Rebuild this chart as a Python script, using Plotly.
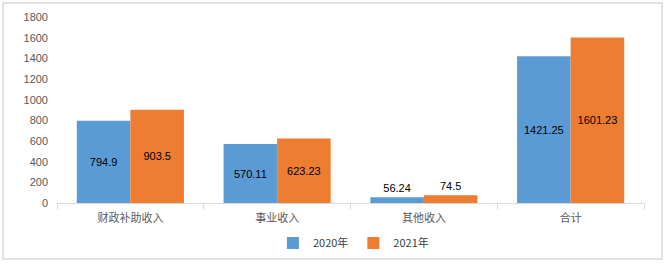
import plotly.graph_objects as go

categories = ["财政补助收入", "事业收入", "其他收入", "合计"]
series_names = ["2020年", "2021年"]
values_2020 = [794.9, 570.11, 56.24, 1421.25]
values_2021 = [903.5, 623.23, 74.5, 1601.23]
y_ticks = [0, 200, 400, 600, 800, 1000, 1200, 1400, 1600, 1800]

colors = ["#5b9bd5", "#ed7d31"]
FONT = "Liberation Sans, Noto Sans CJK SC, sans-serif"

def positions(vals):
    return ["inside" if v > 200 else "outside" for v in vals]

fig = go.Figure()
for name, vals, col in zip(series_names, [values_2020, values_2021], colors):
    fig.add_trace(go.Bar(
        x=categories, y=vals, name=name, marker_color=col, marker_line_width=0,
        text=[f"{v:g}" for v in vals], textposition=positions(vals),
        insidetextanchor="middle",
        textfont=dict(size=11, color="#000000", family=FONT),
        cliponaxis=False,
    ))

fig.update_layout(
    width=667, height=265,
    margin=dict(l=57, r=23, t=17, b=62, autoexpand=False),
    paper_bgcolor="white", plot_bgcolor="white",
    barmode="group", bargap=0.27, bargroupgap=0,
    font=dict(family=FONT, size=11, color="#595959"),
    showlegend=True,
    legend=dict(orientation="h", x=0.505, xanchor="center", y=-0.215, yanchor="middle",
                font=dict(size=11, color="#404040", family="Noto Sans CJK SC"),
                itemwidth=30, traceorder="normal", tracegroupgap=0),
    xaxis=dict(showline=True, linecolor="#d9d9d9", linewidth=1, automargin=False,
               ticks="outside", tickson="boundaries", ticklen=5, tickcolor="#d9d9d9",
               ticklabelstandoff=5,
               tickfont=dict(size=11, color="#595959", family="Noto Sans CJK SC"),
               showgrid=False),
    yaxis=dict(range=[0, 1800], tickvals=y_ticks, showgrid=False, showline=False,
               zeroline=False, ticks="", automargin=False, ticklabelstandoff=8,
               tickfont=dict(size=11, color="#595959")),
    shapes=[dict(type="rect", xref="paper", yref="paper",
                 x0=(3 - 57) / 587, x1=(662 - 57) / 587,
                 y0=(203 - 259) / 186, y1=(203 - 3) / 186,
                 line=dict(color="#d9d9d9", width=1.5), fillcolor="rgba(0,0,0,0)", layer="below")],
)

fig.write_html("out.html")
